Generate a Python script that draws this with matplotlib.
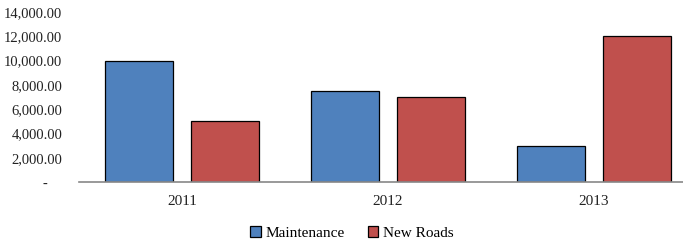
import numpy as np
import matplotlib.pyplot as plt
from matplotlib.ticker import FuncFormatter

years = ["2011", "2012", "2013"]
maintenance = [10000, 7500, 3000]
new_roads = [5000, 7000, 12000]

plt.rcParams['font.family'] = ['Liberation Serif', 'DejaVu Serif']

fig = plt.figure(figsize=(6.83, 2.48), dpi=100)
ax = fig.add_axes([0.1157, 0.266, 0.8843, 0.686])

x = np.arange(len(years))
w = 0.33
off = 0.209
ax.bar(x - off, maintenance, w, color='#4F81BD', edgecolor='black', linewidth=0.9, label='Maintenance')
ax.bar(x + off, new_roads, w, color='#C0504D', edgecolor='black', linewidth=0.9, label='New Roads')

ax.set_xlim(-0.5, 2.432)
ax.set_ylim(0, 14000)
ax.set_yticks(np.arange(0, 14001, 2000))
ax.yaxis.set_major_formatter(FuncFormatter(lambda v, p: '-    ' if v == 0 else '{:,.2f}'.format(v)))
ax.set_xticks(x)
ax.set_xticklabels(years)
ax.tick_params(length=0, labelsize=11, colors='#222222')
ax.tick_params(axis='y', pad=12, labelsize=10.5)
ax.tick_params(axis='x', pad=9)

for s in ['top', 'right', 'left']:
    ax.spines[s].set_visible(False)
ax.spines['bottom'].set_color('#888888')
ax.spines['bottom'].set_linewidth(1.2)

fig.legend(loc='center', bbox_to_anchor=(0.515, 0.06), ncol=2, frameon=False,
           fontsize=11, handlelength=0.7, handleheight=0.7, handletextpad=0.3, columnspacing=1.5)

fig.savefig('out.png', dpi=100)
